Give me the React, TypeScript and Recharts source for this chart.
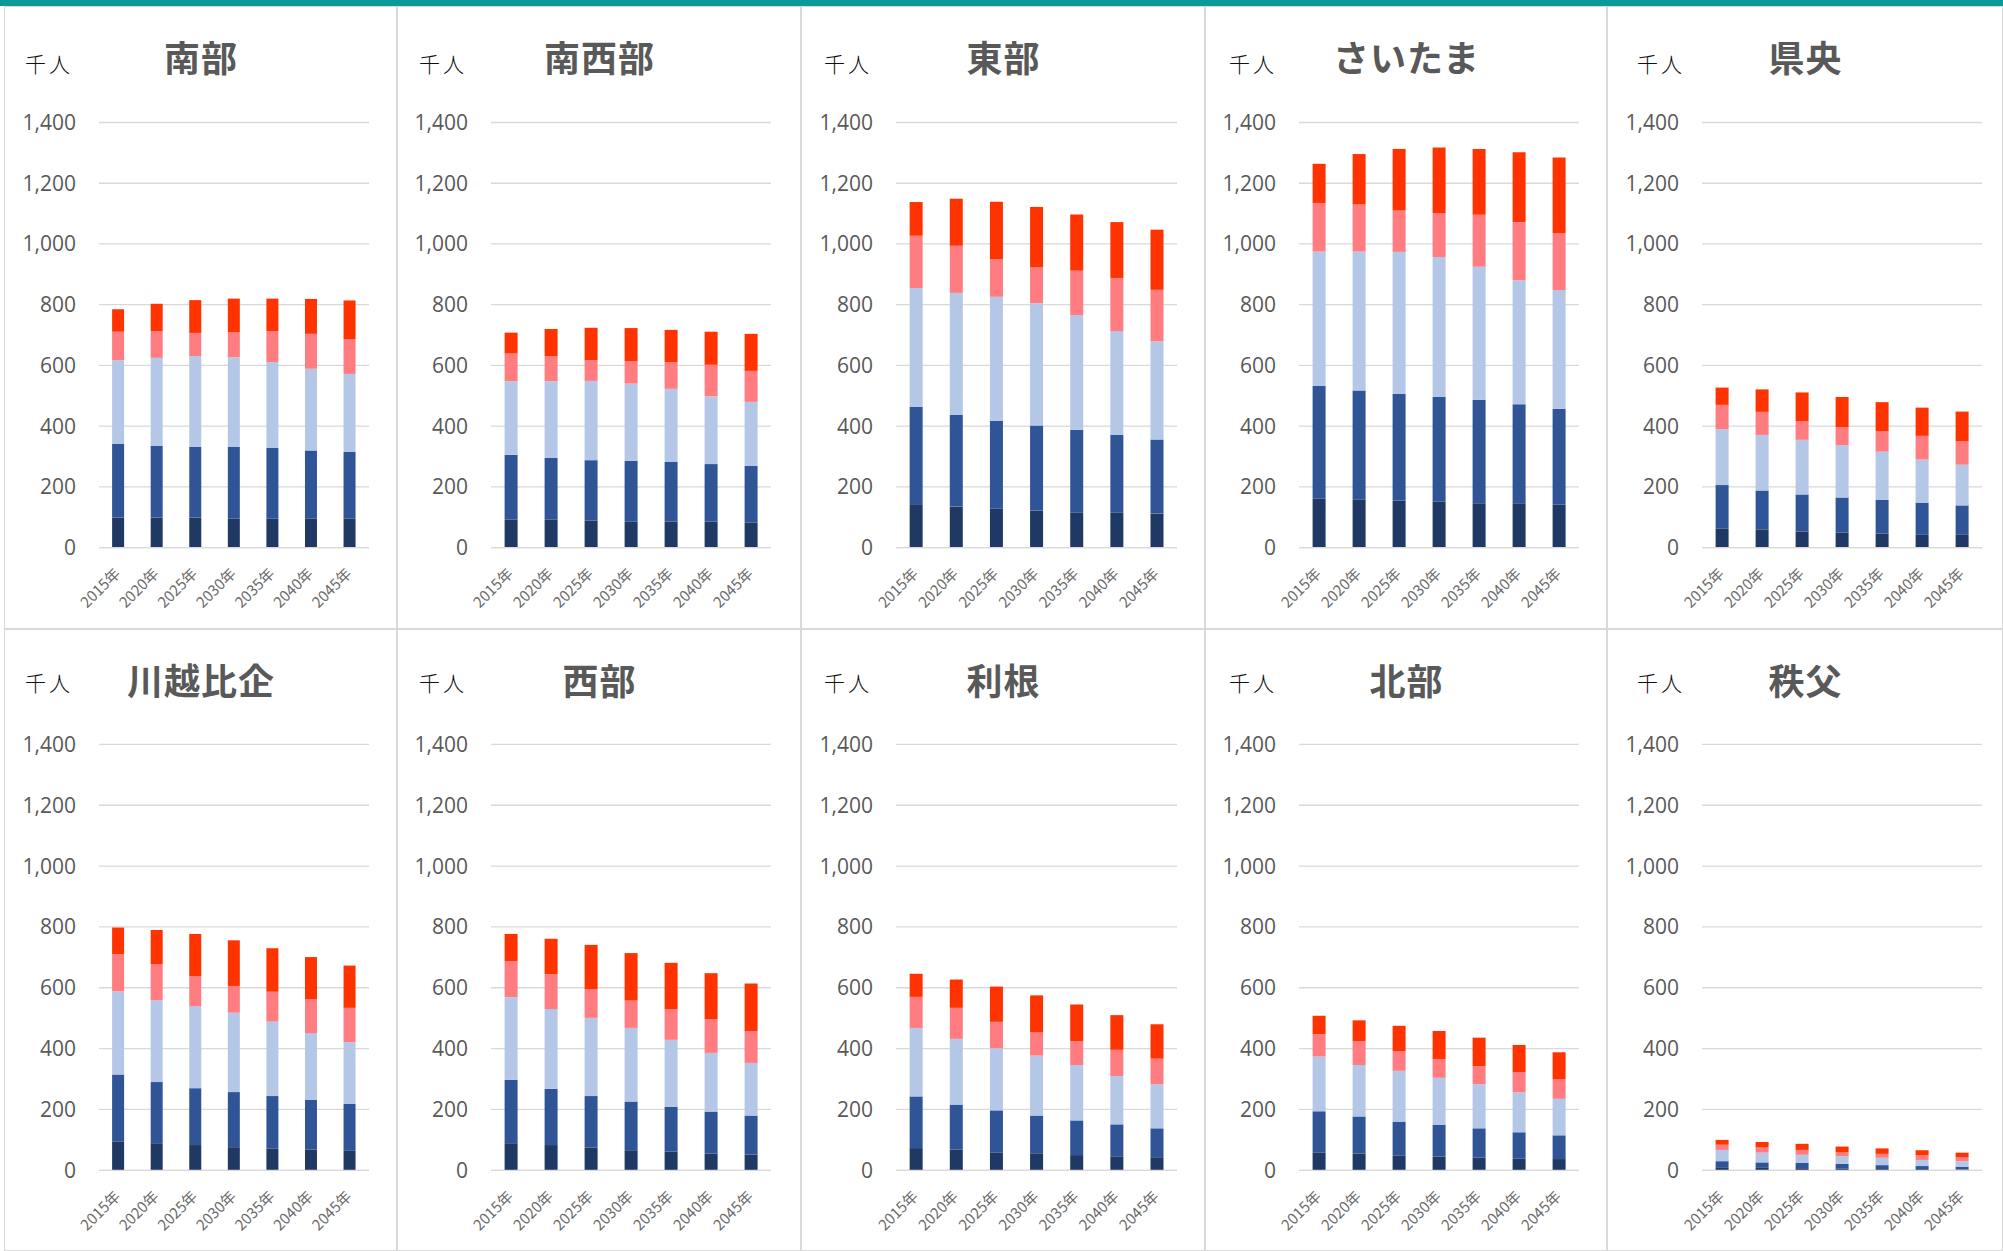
import { BarChart, Bar, XAxis, YAxis, CartesianGrid } from 'recharts';

const YEARS = ['2015年', '2020年', '2025年', '2030年', '2035年', '2040年', '2045年'];
const Y_TICKS = [0, 200, 400, 600, 800, 1000, 1200, 1400];

// each region: five stacked segments, bottom to top (千人)
const nanbu = [
  [99, 99, 99, 95, 95, 95, 95],
  [242, 236, 232, 236, 233, 225, 220],
  [276, 290, 300, 296, 283, 269, 257],
  [94, 88, 76, 82, 102, 115, 115],
  [74, 90, 108, 111, 107, 115, 127],
];
const nanseibu = [
  [93, 93, 89, 85, 86, 86, 83],
  [213, 202, 199, 201, 196, 189, 186],
  [242, 253, 261, 254, 241, 223, 211],
  [91, 82, 68, 74, 88, 104, 102],
  [69, 90, 107, 109, 106, 109, 122],
];
const tobu = [
  [143, 135, 128, 122, 115, 115, 112],
  [320, 302, 289, 280, 273, 256, 244],
  [392, 402, 409, 403, 378, 342, 323],
  [172, 155, 124, 119, 146, 175, 170],
  [111, 155, 189, 198, 185, 184, 198],
];
const saitama = [
  [161, 159, 155, 151, 146, 146, 142],
  [371, 358, 351, 345, 341, 326, 315],
  [443, 458, 468, 461, 438, 408, 391],
  [160, 155, 136, 145, 171, 192, 188],
  [129, 166, 203, 216, 217, 230, 249],
];
const kenou = [
  [62, 60, 53, 49, 46, 42, 42],
  [144, 128, 122, 116, 111, 106, 97],
  [184, 183, 180, 172, 159, 142, 134],
  [80, 76, 62, 60, 68, 78, 77],
  [57, 74, 94, 99, 95, 93, 98],
];
const kawagoeHiki = [
  [94, 89, 83, 76, 72, 68, 64],
  [221, 201, 187, 181, 172, 163, 154],
  [273, 269, 269, 261, 245, 220, 203],
  [123, 119, 99, 88, 98, 112, 113],
  [87, 112, 139, 150, 143, 138, 139],
];
const seibu = [
  [89, 83, 75, 66, 62, 55, 52],
  [209, 185, 169, 160, 147, 138, 128],
  [271, 262, 257, 242, 220, 193, 173],
  [119, 115, 95, 90, 100, 111, 105],
  [89, 116, 145, 156, 153, 151, 156],
];
const tone = [
  [73, 68, 59, 56, 50, 46, 43],
  [170, 148, 138, 124, 114, 105, 95],
  [225, 216, 204, 197, 182, 159, 145],
  [102, 102, 87, 76, 78, 86, 84],
  [76, 93, 116, 122, 121, 114, 113],
];
const hokubu = [
  [59, 55, 49, 45, 42, 38, 37],
  [135, 122, 111, 105, 96, 87, 78],
  [180, 169, 167, 154, 145, 131, 120],
  [73, 78, 65, 62, 59, 67, 65],
  [61, 69, 83, 92, 94, 89, 88],
];
const chichibu = [
  [10, 8, 7, 5, 4, 4, 3],
  [20, 18, 17, 16, 13, 10, 9],
  [37, 32, 27, 25, 24, 20, 18],
  [17, 17, 16, 13, 13, 15, 12],
  [16, 18, 20, 19, 18, 17, 16],
];

const REGIONS = [
  { name: '南部', values: nanbu },
  { name: '南西部', values: nanseibu },
  { name: '東部', values: tobu },
  { name: 'さいたま', values: saitama },
  { name: '県央', values: kenou },
  { name: '川越比企', values: kawagoeHiki },
  { name: '西部', values: seibu },
  { name: '利根', values: tone },
  { name: '北部', values: hokubu },
  { name: '秩父', values: chichibu },
];

const SERIES_KEYS = ['s1', 's2', 's3', 's4', 's5'];
const COLORS = ['#203864', '#2f5597', '#b4c7e7', '#ff7c80', '#ff3300'];

// layout
const COL_LEFT = [4, 397, 801, 1205, 1607];
const COL_RIGHT = [397, 801, 1205, 1607, 2003];
const PLOT_LEFT = [95, 94, 95, 94, 95];
const PLOT_WIDTH = [270, 280, 281, 280, 280];
const UNIT_LEFT = [21, 22, 23, 24, 30];
const ROWS = [
  { top: 6, height: 623, plotTop: 116.5, plotH: 425.1, unitTop: 47, titleTop: 32 },
  { top: 629, height: 622, plotTop: 115.4, plotH: 425.9, unitTop: 43, titleTop: 32 },
];
const X_AXIS_H = 70;

function YearTick(props: any) {
  const { x, y, payload } = props;
  const ax = x + 3;
  const ay = y + 27;
  return (
    <text
      x={ax}
      y={ay}
      transform={`rotate(-45 ${ax} ${ay})`}
      textAnchor="end"
      fontSize={15}
      fill="#6b6b6b"
      fontFamily="'Noto Sans CJK JP', sans-serif"
    >
      {payload.value}
    </text>
  );
}

function Panel({ region, col, row }: any) {
  const r = ROWS[row];
  const left = COL_LEFT[col];
  const width = COL_RIGHT[col] - left;
  const innerW = width - 2;
  const innerH = r.height - 2;
  const plotLeft = PLOT_LEFT[col] - 1;
  const plotTop = r.plotTop - 1;
  const data = YEARS.map((year, i) => {
    const d: any = { year };
    SERIES_KEYS.forEach((k, s) => {
      d[k] = region.values[s][i];
    });
    return d;
  });

  return (
    <div
      style={{
        position: 'absolute',
        left,
        top: r.top,
        width,
        height: r.height,
        boxSizing: 'border-box',
        border: '1px solid #d9d9d9',
        background: '#fff',
      }}
    >
      <div
        style={{
          position: 'absolute',
          left: 0,
          top: r.titleTop - 1,
          width: '100%',
          textAlign: 'center',
          fontFamily: "'Noto Sans CJK JP', sans-serif",
          fontWeight: 700,
          fontSize: 36,
          lineHeight: 1,
          letterSpacing: 1,
          paddingLeft: 1,
          boxSizing: 'border-box',
          color: '#595959',
        }}
      >
        {region.name}
      </div>
      <div
        style={{
          position: 'absolute',
          left: UNIT_LEFT[col] - 1,
          top: r.unitTop - 1,
          fontFamily: "'Noto Sans CJK JP', sans-serif",
          fontWeight: 300,
          fontSize: 21,
          lineHeight: 1,
          letterSpacing: 3,
          color: '#111',
        }}
      >
        千人
      </div>
      <div style={{ position: 'absolute', left: 0, top: 0 }}>
        <BarChart
          width={innerW}
          height={innerH}
          data={data}
          barCategoryGap="34%"
          margin={{
            top: plotTop,
            left: 0,
            right: innerW - plotLeft - PLOT_WIDTH[col],
            bottom: innerH - plotTop - r.plotH - X_AXIS_H,
          }}
        >
          <CartesianGrid vertical={false} stroke="#d9d9d9" strokeWidth={1.3} />
          <XAxis
            dataKey="year"
            height={X_AXIS_H}
            interval={0}
            tickLine={false}
            tickSize={0}
            tickMargin={0}
            axisLine={{ stroke: '#d9d9d9', strokeWidth: 1.3 }}
            tick={<YearTick />}
          />
          <YAxis
            width={plotLeft}
            domain={[0, 1400]}
            ticks={Y_TICKS}
            axisLine={false}
            tickLine={false}
            tickSize={0}
            tickMargin={23}
            tick={{ fill: '#595959', fontSize: 21, fontFamily: "'Open Sans', sans-serif" }}
            tickFormatter={(v: number) => v.toLocaleString('en-US')}
          />
          {SERIES_KEYS.map((k, s) => (
            <Bar key={k} dataKey={k} stackId="a" fill={COLORS[s]} isAnimationActive={false} />
          ))}
        </BarChart>
      </div>
    </div>
  );
}

export default function App() {
  return (
    <div
      style={{
        position: 'absolute',
        left: 0,
        top: 0,
        width: 2003,
        height: 1251,
        background: '#fff',
        overflow: 'hidden',
      }}
    >
      <div style={{ position: 'absolute', left: 0, top: 0, width: 2003, height: 6, background: '#0a9a98' }} />
      {REGIONS.map((region, i) => (
        <Panel key={region.name} region={region} col={i % 5} row={Math.floor(i / 5)} />
      ))}
    </div>
  );
}
